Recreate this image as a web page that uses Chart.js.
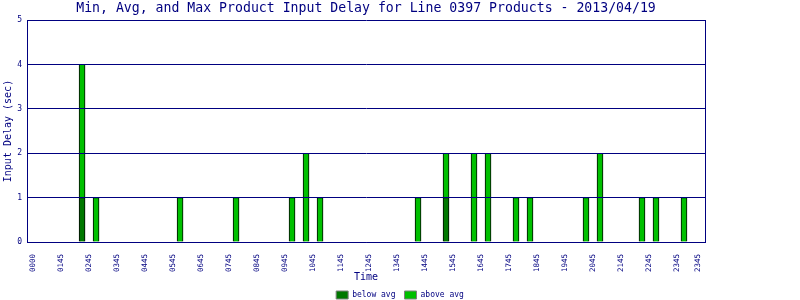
<!DOCTYPE html>
<html>
<head>
<meta charset="utf-8">
<script src="https://cdn.jsdelivr.net/npm/chart.js@4.4.0/dist/chart.umd.min.js"></script>
<style>
  html, body { margin: 0; padding: 0; background: #fff; }
  #wrap { width: 800px; height: 300px; }
</style>
</head>
<body>
<div id="wrap"><canvas id="chart" width="800" height="300"></canvas></div>
<script>
// Half-hour buckets that had products (HHMM)
const slotTimes = ['0145', '0215', '0515', '0715', '0915', '0945', '1015', '1345', '1445',
                   '1545', '1615', '1715', '1745', '1945', '2015', '2145', '2215', '2315'];
// Stacked segments: part below the average, part above it (sec)
const belowAvg = [1, 0, 0, 0, 0, 0, 0, 0, 1, 0, 0, 0, 0, 0, 0, 0, 0, 0];
const aboveAvg = [3, 1, 1, 1, 1, 2, 1, 1, 1, 2, 2, 1, 1, 1, 2, 1, 1, 1];

// Axis ticks in minutes after midnight, with the labels the original prints
const tickMinutes = [0, 60, 120, 180, 240, 300, 360, 420, 480, 540, 600, 660, 720,
                     780, 840, 900, 960, 1020, 1080, 1140, 1200, 1260, 1320, 1380, 1425];
const tickLabels = ['0000', '0145', '0245', '0345', '0445', '0545', '0645', '0745', '0845',
                    '0945', '1045', '1145', '1245', '1345', '1445', '1545', '1645', '1745',
                    '1845', '1945', '2045', '2145', '2245', '2345', '2345'];

const NAVY = '#000080';
Chart.defaults.font.family = "'DejaVu Sans Mono', monospace";
Chart.defaults.color = NAVY;

const toMinutes = t => parseInt(t.slice(0, 2), 10) * 60 + parseInt(t.slice(2), 10);
const points = values => slotTimes.map((t, i) => ({ x: toMinutes(t), y: values[i] }));

const ctx = document.getElementById('chart').getContext('2d');
new Chart(ctx, {
  type: 'bar',
  data: {
    datasets: [
      {
        label: 'below avg',
        data: points(belowAvg),
        backgroundColor: '#007800',
        borderColor: '#000000',
        borderWidth: 1,
        barThickness: 6
      },
      {
        label: 'above avg',
        data: points(aboveAvg),
        backgroundColor: '#00c000',
        borderColor: '#000000',
        borderWidth: 1,
        barThickness: 6
      }
    ]
  },
  options: {
    responsive: false,
    animation: false,
    // legend sits lower than chart.js would put it
    layout: { padding: { left: 0, right: 0, top: 0, bottom: -9 } },
    plugins: {
      title: {
        display: true,
        text: 'Min, Avg, and Max Product Input Delay for Line 0397 Products - 2013/04/19',
        fullSize: false,
        color: NAVY,
        font: { size: 13.2, weight: 'normal' },
        padding: { top: 1, bottom: 3.2 }
      },
      legend: {
        position: 'bottom',
        labels: {
          boxWidth: 12,
          boxHeight: 8,
          padding: 9,
          color: NAVY,
          font: { size: 8 },
          generateLabels: chart => Chart.defaults.plugins.legend.labels.generateLabels(chart)
            .map(l => ({ ...l, strokeStyle: '#808080', lineWidth: 1 }))
        }
      },
      tooltip: { enabled: false }
    },
    scales: {
      x: {
        type: 'linear',
        stacked: true,
        min: -13,
        max: 1440,
        offset: false,
        grid: { display: false },
        border: { color: NAVY },
        afterBuildTicks: scale => { scale.ticks = tickMinutes.map(v => ({ value: v })); },
        ticks: {
          autoSkip: false,
          minRotation: 90,
          maxRotation: 90,
          padding: 4,
          color: NAVY,
          font: { size: 7.5 },
          callback: (value, index) => tickLabels[index]
        },
        title: {
          display: true, text: 'Time', color: NAVY,
          font: { size: 10, lineHeight: 0.9 }, padding: { top: 0, bottom: 0 }
        },
        afterFit: scale => { scale.height = 300 + 9 - 242 - scale.chart.legend.height; }
      },
      y: {
        stacked: true,
        min: 0,
        max: 5,
        ticks: { stepSize: 1, padding: 5, color: NAVY, font: { size: 8 } },
        // grid over the bars, like the original; border must share the layer
        grid: { color: NAVY, drawTicks: false, z: 1 },
        border: { color: NAVY, z: 1 },
        title: {
          display: true, text: 'Input Delay (sec)', color: NAVY,
          font: { size: 10 }, padding: { top: 2, bottom: 0 }
        },
        afterFit: scale => { scale.width = 27; }
      },
      // empty right axis: draws the right edge of the frame and keeps the margin
      y2: {
        position: 'right',
        min: 0,
        max: 5,
        grid: { display: false },
        ticks: { display: false },
        border: { color: NAVY },
        afterFit: scale => { scale.width = 95; }
      }
    }
  }
});
</script>
</body>
</html>
